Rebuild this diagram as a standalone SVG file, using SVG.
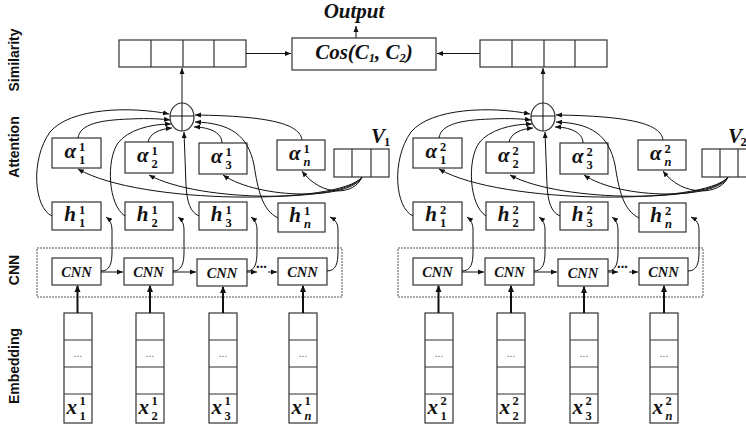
<svg xmlns="http://www.w3.org/2000/svg" width="746" height="427" viewBox="0 0 746 427">
<style>
.bx{fill:#fff;stroke:#333;stroke-width:1.2}
.dv{stroke:#333;stroke-width:1.2}
.fr{fill:none;stroke:#555;stroke-width:1;stroke-dasharray:2 1}
.ln{fill:none;stroke:#111;stroke-width:1}
.th{fill:none;stroke:#111;stroke-width:2}
.mv{font-family:"Liberation Serif",serif;font-weight:bold;font-style:italic;font-size:21px;fill:#111}
.sc{font-family:"Liberation Serif",serif;font-weight:bold;font-size:12.5px;fill:#111}
.si{font-family:"Liberation Serif",serif;font-weight:bold;font-style:italic;font-size:12.5px;fill:#111}
.cn{font-family:"Liberation Serif",serif;font-weight:bold;font-style:italic;font-size:14.5px;fill:#111;text-anchor:middle}
.lab{font-family:"Liberation Sans",Arial,sans-serif;font-weight:bold;font-size:14px;fill:#111;text-anchor:middle}
.dt{font-family:"Liberation Sans",Arial,sans-serif;font-size:10px;fill:#555;text-anchor:middle}
</style>
<defs>
<marker id="ah" markerWidth="6" markerHeight="6" refX="6" refY="3" orient="auto" markerUnits="userSpaceOnUse"><path d="M0,0.5 L6,3 L0,5.5 z" fill="#111"/></marker>
<marker id="ahb" markerWidth="7" markerHeight="7" refX="6" refY="3.5" orient="auto" markerUnits="userSpaceOnUse"><path d="M0,0.5 L7,3.5 L0,6.5 z" fill="#111"/></marker>
</defs>

<g id="layer-labels">
<text class="lab" transform="translate(19,60) rotate(-90)">Similarity</text>
<text class="lab" transform="translate(19,147) rotate(-90)">Attention</text>
<text class="lab" transform="translate(19,270) rotate(-90)">CNN</text>
<text class="lab" transform="translate(19,366) rotate(-90)">Embedding</text>
</g>

<g id="output"><text class="mv" x="354" y="18" text-anchor="middle" font-size="16">Output</text></g>
<g id="cos"><rect class="bx" x="292" y="38" width="144" height="32"/>
<text class="mv" x="364" y="59" text-anchor="middle" font-size="17">Cos(C<tspan class="sc" font-size="11" dy="3">1</tspan><tspan dy="-3">, C</tspan><tspan class="sc" font-size="11" dy="3">2</tspan><tspan dy="-3">)</tspan></text></g>

<g id="sim1"><rect class="bx" x="119" y="40" width="127" height="27"/><path class="dv" d="M151,40V67M183,40V67M214,40V67"/></g>
<g id="sim2"><rect class="bx" x="480" y="40" width="127" height="27"/><path class="dv" d="M512,40V67M544,40V67M575,40V67"/></g>

<g id="sum1"><ellipse cx="182" cy="117" rx="12" ry="14" fill="#fff" stroke="#333" stroke-width="1.2"/><path class="ln" d="M170,116H194M182,103V131"/></g>
<g id="sum2"><ellipse cx="543" cy="117" rx="12" ry="14" fill="#fff" stroke="#333" stroke-width="1.2"/><path class="ln" d="M531,116H555M543,103V131"/></g>

<g id="a1_1"><rect class="bx" x="52" y="138" width="49" height="30"/><text class="mv" x="76" y="158" text-anchor="end">α</text><text class="sc" x="79" y="151">1</text><text class="sc" x="79" y="164">1</text></g>
<g id="a1_2"><rect class="bx" x="125" y="142" width="48" height="31"/><text class="mv" x="148.5" y="162" text-anchor="end">α</text><text class="sc" x="151.5" y="155">1</text><text class="sc" x="151.5" y="168">2</text></g>
<g id="a1_3"><rect class="bx" x="199" y="143" width="48" height="31"/><text class="mv" x="222.5" y="163" text-anchor="end">α</text><text class="sc" x="225.5" y="156">1</text><text class="sc" x="225.5" y="169">3</text></g>
<g id="a1_n"><rect class="bx" x="277" y="140" width="48" height="30"/><text class="mv" x="300.5" y="160" text-anchor="end">α</text><text class="sc" x="303.5" y="153">1</text><text class="si" x="303.5" y="166">n</text></g>
<g id="a2_1"><rect class="bx" x="413" y="138" width="49" height="30"/><text class="mv" x="437" y="158" text-anchor="end">α</text><text class="sc" x="440" y="151">2</text><text class="sc" x="440" y="164">1</text></g>
<g id="a2_2"><rect class="bx" x="486" y="142" width="48" height="31"/><text class="mv" x="509.5" y="162" text-anchor="end">α</text><text class="sc" x="512.5" y="155">2</text><text class="sc" x="512.5" y="168">2</text></g>
<g id="a2_3"><rect class="bx" x="560" y="143" width="48" height="31"/><text class="mv" x="583.5" y="163" text-anchor="end">α</text><text class="sc" x="586.5" y="156">2</text><text class="sc" x="586.5" y="169">3</text></g>
<g id="a2_n"><rect class="bx" x="638" y="140" width="48" height="30"/><text class="mv" x="661.5" y="160" text-anchor="end">α</text><text class="sc" x="664.5" y="153">2</text><text class="si" x="664.5" y="166">n</text></g>

<g id="v1"><rect class="bx" x="334" y="149" width="55" height="28"/><path class="dv" d="M352,149V177M371,149V177"/><text class="mv" x="371" y="143" font-size="15">V</text><text class="sc" x="384" y="146" font-size="10">1</text></g>
<g id="v2"><rect class="bx" x="702" y="149" width="55" height="28"/><path class="dv" d="M720,149V177M738,149V177"/><text class="mv" x="728" y="143" font-size="15">V</text><text class="sc" x="740.5" y="146" font-size="10">2</text></g>

<g id="h1_1"><rect class="bx" x="52" y="202" width="49" height="28"/><text class="mv" x="76" y="221" text-anchor="end">h</text><text class="sc" x="79" y="214">1</text><text class="sc" x="79" y="227">1</text></g>
<g id="h1_2"><rect class="bx" x="125" y="202" width="48" height="28"/><text class="mv" x="148.5" y="221" text-anchor="end">h</text><text class="sc" x="151.5" y="214">1</text><text class="sc" x="151.5" y="227">2</text></g>
<g id="h1_3"><rect class="bx" x="199" y="202" width="48" height="28"/><text class="mv" x="222.5" y="221" text-anchor="end">h</text><text class="sc" x="225.5" y="214">1</text><text class="sc" x="225.5" y="227">3</text></g>
<g id="h1_n"><rect class="bx" x="278" y="203" width="47" height="29"/><text class="mv" x="301" y="222" text-anchor="end">h</text><text class="sc" x="304" y="215">1</text><text class="si" x="304" y="228">n</text></g>
<g id="h2_1"><rect class="bx" x="413" y="202" width="49" height="28"/><text class="mv" x="437" y="221" text-anchor="end">h</text><text class="sc" x="440" y="214">2</text><text class="sc" x="440" y="227">1</text></g>
<g id="h2_2"><rect class="bx" x="486" y="202" width="48" height="28"/><text class="mv" x="509.5" y="221" text-anchor="end">h</text><text class="sc" x="512.5" y="214">2</text><text class="sc" x="512.5" y="227">2</text></g>
<g id="h2_3"><rect class="bx" x="560" y="202" width="48" height="28"/><text class="mv" x="583.5" y="221" text-anchor="end">h</text><text class="sc" x="586.5" y="214">2</text><text class="sc" x="586.5" y="227">3</text></g>
<g id="h2_n"><rect class="bx" x="639" y="203" width="47" height="29"/><text class="mv" x="662" y="222" text-anchor="end">h</text><text class="sc" x="665" y="215">2</text><text class="si" x="665" y="228">n</text></g>

<g id="cnnframe1"><rect class="fr" x="37" y="248" width="305" height="49"/></g>
<g id="cnnframe2"><rect class="fr" x="398" y="248" width="305" height="49"/></g>
<g id="cnn1_1"><rect class="bx" x="52" y="258" width="49" height="27"/><text class="cn" x="76.5" y="277">CNN</text></g>
<g id="cnn1_2"><rect class="bx" x="124" y="258" width="49" height="27"/><text class="cn" x="148.5" y="277">CNN</text></g>
<g id="cnn1_3"><rect class="bx" x="197" y="259" width="50" height="27"/><text class="cn" x="222" y="278">CNN</text></g>
<g id="cnn1_n"><rect class="bx" x="278" y="258" width="49" height="27"/><text class="cn" x="302.5" y="277">CNN</text></g>
<g id="cnn2_1"><rect class="bx" x="413" y="258" width="49" height="27"/><text class="cn" x="437.5" y="277">CNN</text></g>
<g id="cnn2_2"><rect class="bx" x="485" y="258" width="49" height="27"/><text class="cn" x="509.5" y="277">CNN</text></g>
<g id="cnn2_3"><rect class="bx" x="558" y="259" width="50" height="27"/><text class="cn" x="583" y="278">CNN</text></g>
<g id="cnn2_n"><rect class="bx" x="639" y="258" width="49" height="27"/><text class="cn" x="663.5" y="277">CNN</text></g>
<g id="dots"><text class="cn" x="262" y="268" font-size="10">...</text><text class="cn" x="623" y="268" font-size="10">...</text></g>

<g id="e1_1"><rect class="bx" x="64" y="313" width="28" height="110"/><path class="dv" d="M64,340H92M64,367H92M64,394H92"/><text class="dt" x="78" y="357">...</text><text class="mv" x="77" y="414" text-anchor="end">x</text><text class="sc" x="79.5" y="405">1</text><text class="sc" x="79.5" y="420">1</text></g>
<g id="e1_2"><rect class="bx" x="136" y="313" width="28" height="110"/><path class="dv" d="M136,340H164M136,367H164M136,394H164"/><text class="dt" x="150" y="357">...</text><text class="mv" x="149" y="414" text-anchor="end">x</text><text class="sc" x="151.5" y="405">1</text><text class="sc" x="151.5" y="420">2</text></g>
<g id="e1_3"><rect class="bx" x="209" y="313" width="28" height="110"/><path class="dv" d="M209,340H237M209,367H237M209,394H237"/><text class="dt" x="223" y="357">...</text><text class="mv" x="222" y="414" text-anchor="end">x</text><text class="sc" x="224.5" y="405">1</text><text class="sc" x="224.5" y="420">3</text></g>
<g id="e1_n"><rect class="bx" x="289" y="313" width="28" height="110"/><path class="dv" d="M289,340H317M289,367H317M289,394H317"/><text class="dt" x="303" y="357">...</text><text class="mv" x="302" y="414" text-anchor="end">x</text><text class="sc" x="304.5" y="405">1</text><text class="si" x="304.5" y="420">n</text></g>
<g id="e2_1"><rect class="bx" x="425" y="313" width="28" height="110"/><path class="dv" d="M425,340H453M425,367H453M425,394H453"/><text class="dt" x="439" y="357">...</text><text class="mv" x="438" y="414" text-anchor="end">x</text><text class="sc" x="440.5" y="405">2</text><text class="sc" x="440.5" y="420">1</text></g>
<g id="e2_2"><rect class="bx" x="497" y="313" width="28" height="110"/><path class="dv" d="M497,340H525M497,367H525M497,394H525"/><text class="dt" x="511" y="357">...</text><text class="mv" x="510" y="414" text-anchor="end">x</text><text class="sc" x="512.5" y="405">2</text><text class="sc" x="512.5" y="420">2</text></g>
<g id="e2_3"><rect class="bx" x="570" y="313" width="28" height="110"/><path class="dv" d="M570,340H598M570,367H598M570,394H598"/><text class="dt" x="584" y="357">...</text><text class="mv" x="583" y="414" text-anchor="end">x</text><text class="sc" x="585.5" y="405">2</text><text class="sc" x="585.5" y="420">3</text></g>
<g id="e2_n"><rect class="bx" x="650" y="313" width="28" height="110"/><path class="dv" d="M650,340H678M650,367H678M650,394H678"/><text class="dt" x="664" y="357">...</text><text class="mv" x="663" y="414" text-anchor="end">x</text><text class="sc" x="665.5" y="405">2</text><text class="si" x="665.5" y="420">n</text></g>

<g id="connectors" marker-end="url(#ah)">
<path class="ln" d="M182,103V68"/>
<path class="ln" d="M543,103V68"/>
<path class="ln" d="M246,53.5H291"/>
<path class="ln" d="M480,53.5H437"/>
<path class="ln" d="M356,38V26"/>
<path class="ln" d="M52,216 C34,208 30,160 50,132 C70,108 130,106 169,114"/>
<path class="ln" d="M78,138 C80,124 100,120 130,119 C150,118 162,119 170,120"/>
<path class="ln" d="M125,216 C108,205 106,160 118,143 C128,130 150,124 171,124"/>
<path class="ln" d="M148,142 C150,133 160,129 172,128"/>
<path class="ln" d="M199,216 C190,212 187,202 186,185 L184,132"/>
<path class="ln" d="M222,143 C222,132 208,127 194,127"/>
<path class="ln" d="M278,218 C262,210 258,190 254,165 C248,135 230,123 195,122"/>
<path class="ln" d="M302,140 C300,124 270,116 195,115"/>
<path class="ln" d="M362,177 C355,195 322,198 302,171"/>
<path class="ln" d="M362,177 C350,200 260,200 223,175"/>
<path class="ln" d="M362,177 C345,203 200,203 149,175"/>
<path class="ln" d="M362,177 C340,205 140,205 78,169"/>
<path class="ln" d="M413,216 C395,208 391,160 411,132 C431,108 491,106 530,114"/>
<path class="ln" d="M439,138 C441,124 461,120 491,119 C511,118 523,119 531,120"/>
<path class="ln" d="M486,216 C469,205 467,160 479,143 C489,130 511,124 532,124"/>
<path class="ln" d="M509,142 C511,133 521,129 533,128"/>
<path class="ln" d="M560,216 C551,212 548,202 547,185 L545,132"/>
<path class="ln" d="M583,143 C583,132 569,127 555,127"/>
<path class="ln" d="M639,218 C623,210 619,190 615,165 C609,135 591,123 556,122"/>
<path class="ln" d="M663,140 C661,124 631,116 556,115"/>
<path class="ln" d="M728,177 C721,195 683,198 663,171"/>
<path class="ln" d="M728,177 C716,200 621,200 584,175"/>
<path class="ln" d="M728,177 C711,203 561,203 510,175"/>
<path class="ln" d="M728,177 C706,205 501,205 439,169"/>
<path class="ln" d="M101,271 C110,271 112,263 112,252 L112,230 C112,224 110,220 106,217"/>
<path class="ln" d="M173,271 C182,271 184,263 184,252 L184,230 C184,224 182,220 178,217"/>
<path class="ln" d="M247,271 C255,271 257,263 257,252 L257,230 C257,224 255,220 251,217"/>
<path class="ln" d="M327,271 C336,271 338,263 338,252 L338,230 C338,224 336,220 330,217"/>
<path class="ln" d="M462,271 C471,271 473,263 473,252 L473,230 C473,224 471,220 467,217"/>
<path class="ln" d="M534,271 C543,271 545,263 545,252 L545,230 C545,224 543,220 539,217"/>
<path class="ln" d="M608,271 C616,271 618,263 618,252 L618,230 C618,224 616,220 612,217"/>
<path class="ln" d="M688,271 C697,271 699,263 699,252 L699,230 C699,224 697,220 691,217"/>
<path class="ln" d="M101,272H123"/>
<path class="ln" d="M173,272H196"/>
<path class="ln" d="M247,272H257"/>
<path class="ln" d="M268,272H277"/>
<path class="ln" d="M462,272H484"/>
<path class="ln" d="M534,272H557"/>
<path class="ln" d="M608,272H618"/>
<path class="ln" d="M629,272H638"/>
<path class="th" marker-end="url(#ahb)" d="M77.5,313V286"/>
<path class="th" marker-end="url(#ahb)" d="M150,313V286"/>
<path class="th" marker-end="url(#ahb)" d="M223,313V287"/>
<path class="th" marker-end="url(#ahb)" d="M303,313V286"/>
<path class="th" marker-end="url(#ahb)" d="M438.5,313V286"/>
<path class="th" marker-end="url(#ahb)" d="M511,313V286"/>
<path class="th" marker-end="url(#ahb)" d="M584,313V287"/>
<path class="th" marker-end="url(#ahb)" d="M664,313V286"/>
</g>
</svg>
